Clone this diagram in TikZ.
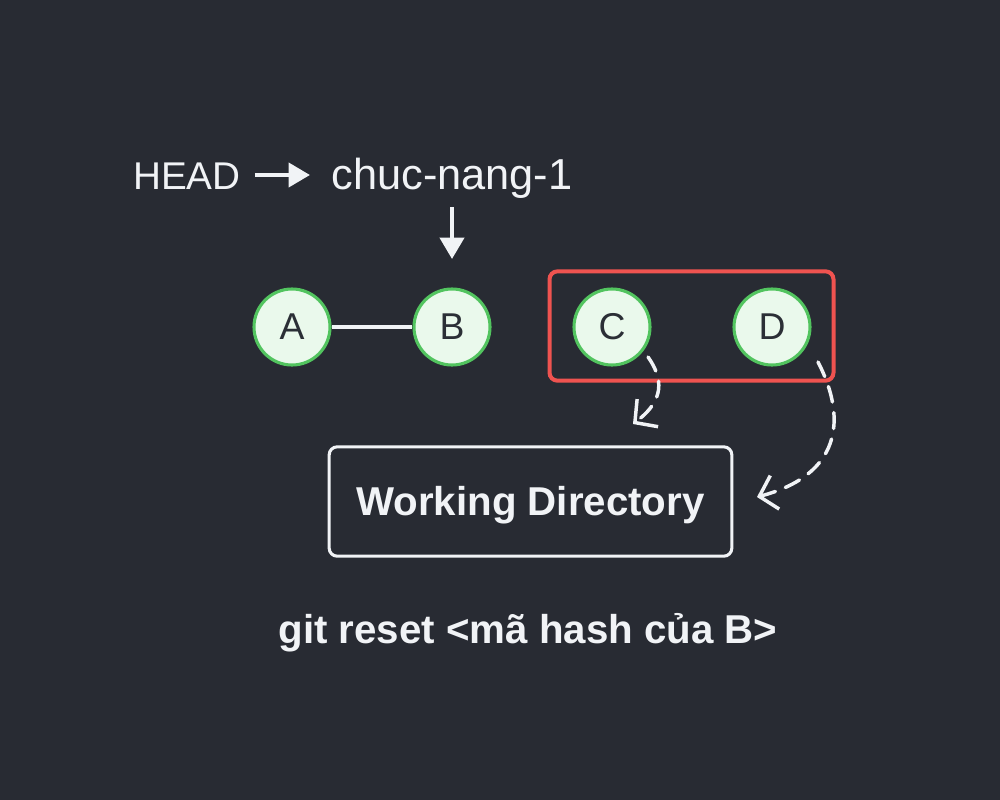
\documentclass[tikz,border=0pt]{standalone}
\usepackage{fontspec}
\setmainfont{Liberation Sans}
\usetikzlibrary{arrows.meta}
\definecolor{bg}{HTML}{282B33}
\definecolor{fg}{HTML}{F1F3F6}
\definecolor{gstroke}{HTML}{52C45F}
\definecolor{gfill}{HTML}{EAF9EC}
\definecolor{redbox}{HTML}{EF5350}
\definecolor{dark}{HTML}{2B2F36}
\tikzset{
  lbl/.style={text=fg, inner sep=0pt, font=\fontsize{29}{34}\selectfont, anchor=base},
  commit/.style={circle, draw=gstroke, fill=gfill, line width=2.3pt, minimum size=57pt, inner sep=0pt, text=dark, font=\fontsize{28}{32}\selectfont},
  solidarr/.style={draw=fg, line width=3pt, -{Triangle[length=16pt,width=18pt]}},
  dasharr/.style={draw=fg, line width=2.6pt, line cap=round, dash pattern=on 12pt off 8pt, -{Straight Barb[length=12pt,width=26pt,line width=2.6pt]}},
  wdbox/.style={draw=fg, line width=2.3pt, rounded corners=6pt, minimum width=302pt, minimum height=82pt, text=fg, font=\bfseries\fontsize{30.2}{34}\selectfont, text height=21.6pt, text depth=0pt},
}
\begin{document}
\begin{tikzpicture}[x=0.75pt,y=-0.75pt]
\fill[bg] (0,0) rectangle (1000,800);
\useasboundingbox (0,0) rectangle (1000,800);

\node[lbl] (head) at (187,189) {HEAD};
\node[lbl, font=\fontsize{32.5}{36}\selectfont] (chuc) at (452,189) {chuc-nang-1};

\node[commit] (A) at (292,327) {A};
\node[commit] (B) at (452,327) {B};
\node[commit] (C) at (612,327) {C};
\node[commit] (D) at (772,327) {D};

\node[draw=redbox, line width=3pt, rounded corners=6pt, minimum width=213pt, minimum height=82pt] (grp) at (691.5,326) {};

\node[wdbox] (wd) at (530.5,501.5) {Working Directory};

\node[text=fg, inner sep=0pt, anchor=base, font=\bfseries\fontsize{30.2}{34}\selectfont] (cmd) at (528,643) {git reset <mã hash của B>};

\draw[fg, line width=2.3pt] (A) -- (B);
\draw[solidarr] ([xshift=10.5pt]head.east |- 0,175) -- ([xshift=-16pt]chuc.west |- 0,175);
\draw[solidarr] (B.north |- 0,207) -- (B.north |- 0,259);

\coordinate (cs) at (648,357);
\coordinate (ce) at (633,424);
\coordinate (ds) at (818,362);
\coordinate (de) at (757,497);
\draw[dasharr] (cs) .. controls (668,385) and (658,405) .. (ce);
\draw[dasharr] (ds) .. controls (848,420) and (840,475) .. (de);
\end{tikzpicture}
\end{document}
